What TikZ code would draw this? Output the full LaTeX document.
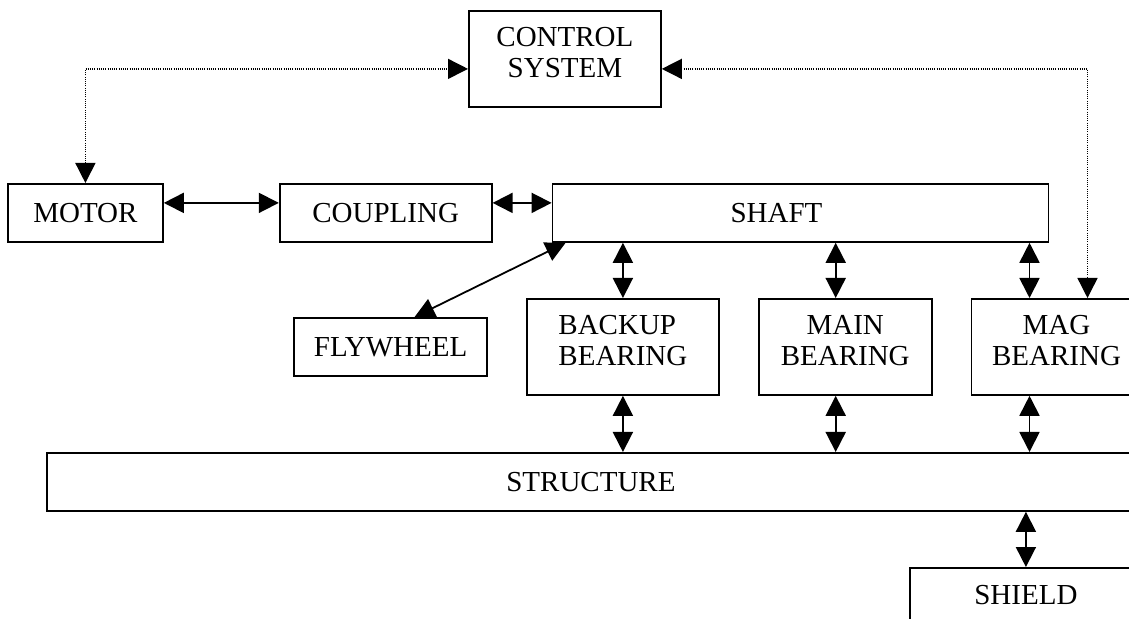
\documentclass[tikz,border=0pt]{standalone}
\usepackage{fontspec}
\setmainfont{Liberation Serif}
\usetikzlibrary{arrows.meta,positioning}
\newcommand{\botgap}{\rule[-6pt]{0pt}{6pt}}

\begin{document}
\begin{tikzpicture}[
  x=0.5pt, y=-0.5pt, node distance=19pt,
  font=\fontsize{14.5}{15.5}\selectfont,
  box/.style={draw, line width=0.9pt, minimum height=29pt,
              inner sep=2pt, align=center},
  tall/.style={box, minimum height=48pt},
  dbl/.style={line width=0.9pt,
              {Triangle[length=10pt,width=10pt]}-{Triangle[length=10pt,width=10pt]}},
  sig/.style={line width=0.7pt, dash pattern=on 0.5pt off 0.6pt,
              {Triangle[length=10pt,width=10pt]}-{Triangle[length=10pt,width=10pt]}}
]
  \useasboundingbox (0,0) rectangle (1129,619);
  \clip (0,0) rectangle (1129,619);
  \fill[white] (0,0) rectangle (1129,619);
  % top row
  \node[tall, minimum width=96pt, anchor=north west] (control) at (468,10)
    {CONTROL\\SYSTEM\botgap};
  \node[box, minimum width=77.5pt, anchor=north west] (motor) at (7,183) {MOTOR};
  \node[box, minimum width=106pt, right=57.5pt of motor] (coupling) {COUPLING};
  \node[box, minimum width=248pt, right=29.5pt of coupling] (shaft)
    {SHAFT\hspace*{24pt}};
  % bearings
  \node[tall, minimum width=96pt, align=left, anchor=north west] (backup) at (526,298)
    {BACKUP\\BEARING\botgap};
  \node[tall, minimum width=86.5pt, right=of backup] (main) {MAIN\\BEARING\botgap};
  \node[tall, minimum width=85pt, right=of main] (mag) {MAG\\BEARING\botgap};
  \node[box, minimum width=96.5pt, left=of backup] (flywheel) {FLYWHEEL};
  % base
  \node[box, minimum width=544pt, anchor=north west] (structure) at (46,452)
    {STRUCTURE};
  \node[box, minimum width=116pt, minimum height=27pt, anchor=north west]
    (shield) at (909,567) {SHIELD};
  % links
  \draw[dbl] ([yshift=5pt]motor.east) -- ([yshift=5pt]coupling.west);
  \draw[dbl] ([yshift=5pt]coupling.east) -- ([yshift=5pt]shaft.west);
  \draw[dbl] ([xshift=12pt]flywheel.north) -- ([xshift=7pt]shaft.south west);
  \draw[dbl] (backup.north) -- (backup.north |- shaft.south);
  \draw[dbl] ([xshift=-4.75pt]main.north) -- ([xshift=-4.75pt]main.north |- shaft.south);
  \draw[dbl] ([xshift=-13.5pt]mag.north) -- ([xshift=-13.5pt]mag.north |- shaft.south);
  \draw[dbl] (backup.south) -- (backup.south |- structure.north);
  \draw[dbl] ([xshift=-4.75pt]main.south) -- ([xshift=-4.75pt]main.south |- structure.north);
  \draw[dbl] ([xshift=-13.5pt]mag.south) -- ([xshift=-13.5pt]mag.south |- structure.north);
  \draw[dbl] (shield.north) -- (shield.north |- structure.south);
  % control signals
  \draw[sig] (motor.north) |- ([yshift=-5pt]control.west);
  \draw[sig] ([yshift=-5pt]control.east) -| ([xshift=15.5pt]mag.north);
\end{tikzpicture}
\end{document}
